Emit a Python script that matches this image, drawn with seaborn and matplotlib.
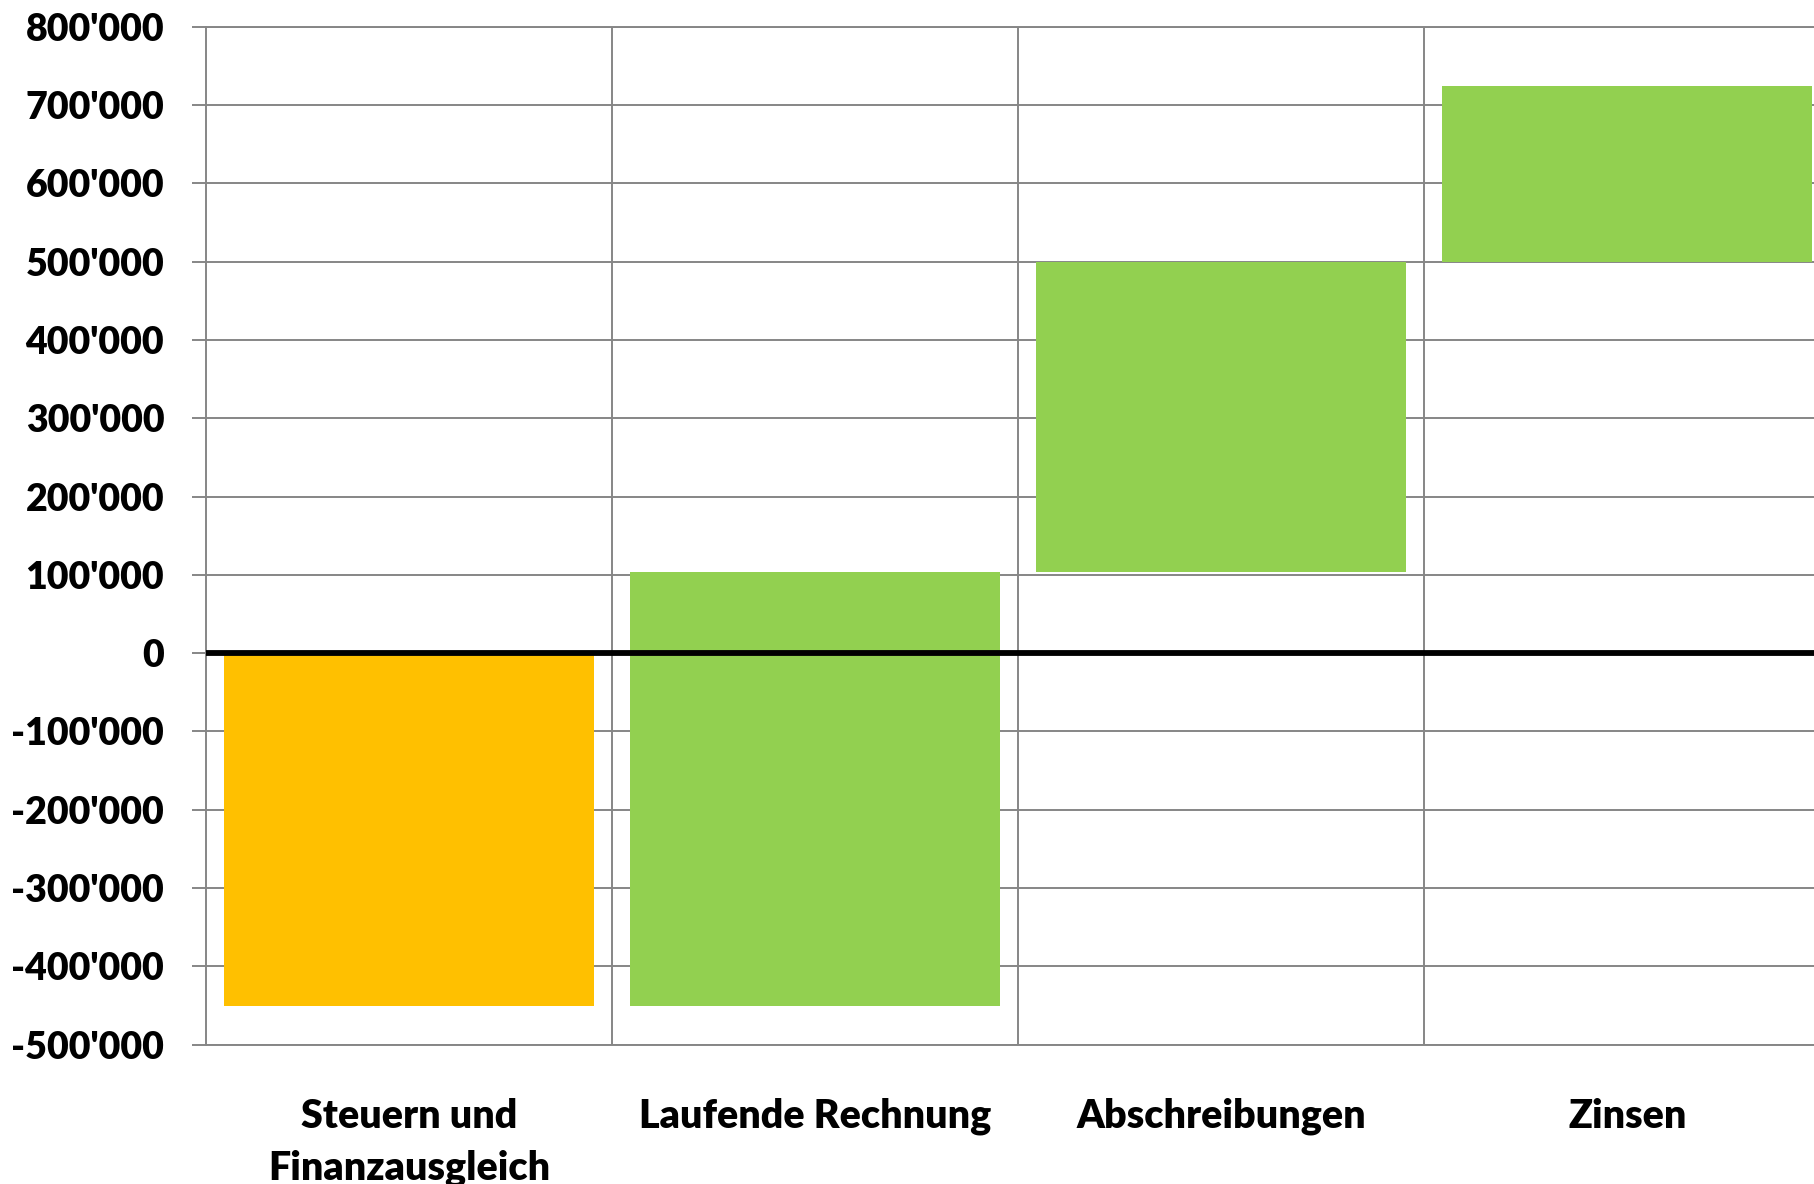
import matplotlib
matplotlib.use("Agg")
import matplotlib.pyplot as plt
from matplotlib.ticker import FuncFormatter, MultipleLocator
import seaborn as sns
import numpy as np

categories = ["Steuern und\nFinanzausgleich", "Laufende Rechnung", "Abschreibungen", "Zinsen"]
starts = [0, -450000, 104000, 500000]
ends = [-450000, 104000, 500000, 724000]
colors = ["#FFC000", "#92D050", "#92D050", "#92D050"]

heights = [e - s for s, e in zip(starts, ends)]

sns.set_theme(style="white")
plt.rcParams['font.family'] = ['Lato', 'DejaVu Sans']
plt.rcParams['font.weight'] = 'bold'

fig = plt.figure(figsize=(18.14, 11.84), dpi=100)
ax = fig.add_axes([0.1135, 0.1176, 0.8955, 0.8599])

sns.barplot(x=categories, y=heights, hue=categories, palette=colors,
            width=0.91, legend=False, ax=ax, saturation=1, zorder=2)

# turn heights into floating waterfall bars
for patch, s, h in zip(ax.patches, starts, heights):
    patch.set_y(s)
    patch.set_height(h)
    patch.set_linewidth(0)

ax.set_xlim(-0.5, 3.5)
ax.set_ylim(-500000, 800000)
ax.yaxis.set_major_locator(MultipleLocator(100000))
ax.yaxis.set_major_formatter(FuncFormatter(lambda v, p: f"{v:,.0f}".replace(",", "'")))

grid_c = "#868686"
ax.yaxis.grid(True, color=grid_c, linewidth=1.4, zorder=0)
ax.set_axisbelow(True)
for xb in [0.5, 1.5, 2.5]:
    ax.axvline(xb, color=grid_c, linewidth=1.4, zorder=1)
ax.axhline(0, color="black", linewidth=4.2, zorder=5)

for side in ["left", "bottom", "top"]:
    ax.spines[side].set_visible(True)
    ax.spines[side].set_color(grid_c)
    ax.spines[side].set_linewidth(1.4)
ax.spines["right"].set_visible(False)

ax.tick_params(axis="y", which="major", left=True, length=10, width=1.4,
               color=grid_c, pad=20, labelsize=27)
ax.tick_params(axis="x", which="major", bottom=False, length=0, pad=38, labelsize=28.4)
for lbl in ax.get_xticklabels() + ax.get_yticklabels():
    lbl.set_fontweight("heavy")
    lbl.set_color("black")
for lbl in ax.get_xticklabels():
    lbl.set_linespacing(1.5)
    lbl.set_verticalalignment("top")

ax.set_xlabel("")
ax.set_ylabel("")

fig.savefig("out.png", dpi=100)
